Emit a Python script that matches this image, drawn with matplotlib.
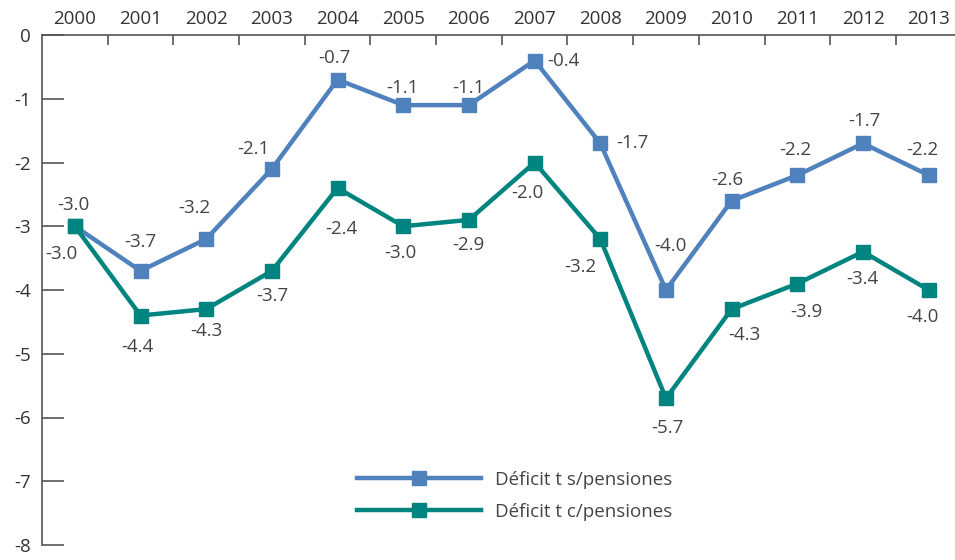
import numpy as np
import matplotlib.pyplot as plt

plt.rcParams['font.family'] = ['Open Sans', 'DejaVu Sans']

years = ['2000', '2001', '2002', '2003', '2004', '2005', '2006',
         '2007', '2008', '2009', '2010', '2011', '2012', '2013']
sin_pens = [-3.0, -3.7, -3.2, -2.1, -0.7, -1.1, -1.1, -0.4, -1.7, -4.0, -2.6, -2.2, -1.7, -2.2]
con_pens = [-3.0, -4.4, -4.3, -3.7, -2.4, -3.0, -2.9, -2.0, -3.2, -5.7, -4.3, -3.9, -3.4, -4.0]

# label offsets in pixels (dx, dy) relative to each point
off_s = [(-1, 21), (0, 29), (-12, 31), (-19, 20), (-3, 22), (-1, 17), (-1, 17),
         (29, -1), (32, 0), (4, 44), (-4, 21), (-2, 25), (1, 22), (-6, 25)]
off_c = [(-13, -28), (-3, -32), (0, -22), (0, -25), (4, -41), (-3, -27), (-1, -25),
         (-7, -31), (-20, -28), (1, -30), (13, -26), (9, -28), (-1, -27), (-6, -27)]

blue = '#4f81bd'
teal = '#00847f'
grey = '#555555'
fs = 13.5

fig = plt.figure(figsize=(9.55, 5.6), dpi=100)
ax = fig.add_axes([42 / 955, 1 - 545 / 560, 913 / 955, 510 / 560])
x = np.arange(len(years))

ax.plot(x, sin_pens, color=blue, lw=3.2, marker='s', ms=10, label='Déficit t s/pensiones')
ax.plot(x, con_pens, color=teal, lw=3.2, marker='s', ms=10, label='Déficit t c/pensiones')

k = 0.72
for i in range(len(years)):
    ax.annotate(f'{sin_pens[i]:.1f}', (x[i], sin_pens[i]),
                xytext=(off_s[i][0] * k, off_s[i][1] * k), textcoords='offset points',
                ha='center', va='center', fontsize=fs, color='#444444')
    ax.annotate(f'{con_pens[i]:.1f}', (x[i], con_pens[i]),
                xytext=(off_c[i][0] * k, off_c[i][1] * k), textcoords='offset points',
                ha='center', va='center', fontsize=fs, color='#444444')

ax.set_xlim(-0.5, 13.4)
ax.set_ylim(-8, 0)

ax.xaxis.tick_top()
ax.set_xticks(x)
ax.set_xticklabels(years, fontsize=fs, color='#333333')
ax.set_xticks(np.arange(0.5, 13, 1), minor=True)
ax.tick_params(axis='x', which='major', length=0, pad=5)
ax.tick_params(axis='x', which='minor', direction='in', length=7, width=1.2, color=grey)

ax.set_yticks(np.arange(0, -9, -1))
ax.set_yticklabels([str(v) for v in range(0, -9, -1)], fontsize=fs, color='#333333')
ax.tick_params(axis='y', direction='in', length=16, width=1.2, color=grey, pad=8)

for s in ['bottom', 'right']:
    ax.spines[s].set_visible(False)
for s in ['left', 'top']:
    ax.spines[s].set_color(grey)
    ax.spines[s].set_linewidth(1.2)

leg = ax.legend(loc='center left', bbox_to_anchor=(298 / 913, 1 - (496 - 35) / 510),
                frameon=False, fontsize=fs, handlelength=6.6, labelspacing=0.75,
                handletextpad=0.75)
for t in leg.get_texts():
    t.set_color('#444444')

fig.savefig('out.png', dpi=100)
